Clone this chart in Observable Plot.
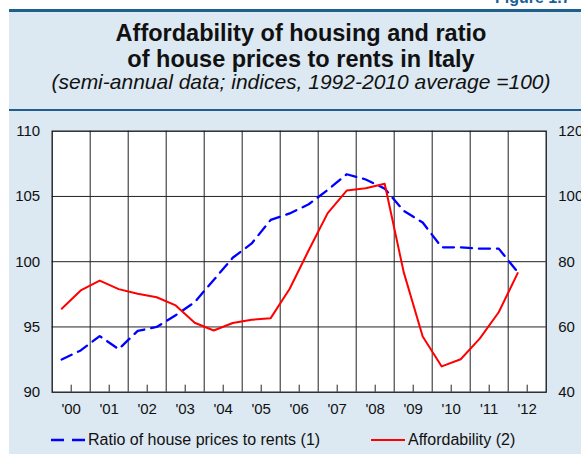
<!DOCTYPE html>
<html>
<head>
<meta charset="utf-8">
<script src="https://cdn.jsdelivr.net/npm/d3@7"></script>
<script src="https://cdn.jsdelivr.net/npm/@observablehq/plot@0.6"></script>
<style>
  html, body { margin: 0; padding: 0; background: #ffffff; }
  #wrap { position: relative; width: 581px; height: 454px; overflow: hidden; background: #ffffff; font-family: "Liberation Sans", Arial, Helvetica, sans-serif; }
  #panel { position: absolute; left: 9px; top: 9px; width: 572px; height: 445px; background: #dce8f2; border-top: 3px solid #1f5f8c; box-sizing: border-box; }
  #sep { position: absolute; left: 9px; top: 108.5px; width: 572px; height: 2.5px; background: #1f5f8c; }
  #fig { position: absolute; left: 495px; top: -11px; font-weight: bold; font-size: 16px; color: #1a5f98; white-space: nowrap; }
  .t { position: absolute; left: 9px; width: 584px; text-align: center; color: #111; white-space: nowrap; line-height: normal; }
  #t1 { top: 20px; font-size: 23.5px; font-weight: bold; }
  #t2 { top: 46px; font-size: 23.5px; font-weight: bold; }
  #t3 { top: 69.5px; font-size: 21px; font-style: italic; }
  #chart { position: absolute; left: 0; top: 120px; }
  #legend { position: absolute; left: 0; top: 430px; width: 581px; height: 20px; font-size: 16px; color: #111; }
  .li { position: absolute; top: 0; height: 20px; display: flex; align-items: center; white-space: nowrap; }
</style>
</head>
<body>
<div id="wrap">
  <div id="panel"></div>
  <div id="sep"></div>
  <div id="fig">Figure 1.7</div>
  <div class="t" id="t1">Affordability of housing and ratio</div>
  <div class="t" id="t2">of house prices to rents in Italy</div>
  <div class="t" id="t3">(semi-annual data; indices, 1992-2010 average =100)</div>
  <div id="chart"></div>
  <div id="legend">
    <div class="li" style="left:51px"><svg width="37" height="20"><line x1="0" y1="10" x2="34" y2="10" stroke="#0000ff" stroke-width="2.5" stroke-dasharray="13,8"/></svg><span>Ratio of house prices to rents (1)</span></div>
    <div class="li" style="left:371px"><svg width="37" height="20"><line x1="0" y1="10" x2="34" y2="10" stroke="#ff0000" stroke-width="2"/></svg><span>Affordability (2)</span></div>
  </div>
</div>
<script>
// Half-year observation points (mid-point of each semester)
const periods = [2000.25, 2000.75, 2001.25, 2001.75, 2002.25, 2002.75, 2003.25, 2003.75,
  2004.25, 2004.75, 2005.25, 2005.75, 2006.25, 2006.75, 2007.25, 2007.75,
  2008.25, 2008.75, 2009.25, 2009.75, 2010.25, 2010.75, 2011.25, 2011.75, 2012.25];
// Ratio of house prices to rents (left axis)
const ratio = [92.5, 93.2, 94.3, 93.3, 94.7, 95.0, 95.9, 96.9,
  98.6, 100.3, 101.4, 103.2, 103.7, 104.4, 105.5, 106.7,
  106.3, 105.6, 103.9, 103.0, 101.1, 101.1, 101.0, 101.0, 99.2];
// Affordability (right axis)
const affordability = [65.6, 71.2, 74.2, 71.6, 70.2, 69.1, 66.6, 61.3,
  58.9, 61.2, 62.2, 62.7, 71.7, 83.5, 94.9, 101.8,
  102.5, 103.9, 76.8, 57.1, 47.9, 50.1, 56.4, 64.5, 76.5];

const years = [2000, 2001, 2002, 2003, 2004, 2005, 2006, 2007, 2008, 2009, 2010, 2011, 2012];
const yearLabels = ["'00", "'01", "'02", "'03", "'04", "'05", "'06", "'07", "'08", "'09", "'10", "'11", "'12"];
const leftTicks = [90, 95, 100, 105, 110];
const rightTicks = [40, 60, 80, 100, 120];

// map right-axis values into the left-axis domain
const toLeft = v => 90 + (v - 40) * (110 - 90) / (120 - 40);

const data = periods.map((p, i) => ({p, ratio: ratio[i], aff: toLeft(affordability[i])}));
const yearBounds = years.slice(1);
const yearMids = years.map(y => y + 0.5);

const chart = Plot.plot({
  width: 581,
  height: 300,
  marginLeft: 51.7,
  marginRight: 35.3,
  marginTop: 10.7,
  marginBottom: 28.3,
  style: {background: "transparent", fontFamily: "'Liberation Sans', Arial, sans-serif", fontSize: "15px", color: "#111"},
  x: {domain: [years[0], years[years.length - 1] + 1]},
  y: {domain: [leftTicks[0], leftTicks[leftTicks.length - 1]]},
  marks: [
    Plot.frame({fill: "white", stroke: "none"}),
    Plot.ruleY(leftTicks.slice(1, -1), {stroke: "#222", strokeWidth: 1}),
    Plot.ruleX(yearBounds, {stroke: "#222", strokeWidth: 1}),
    Plot.ruleX(yearMids, {stroke: "#222", strokeWidth: 1, insetTop: 254}),
    Plot.axisY(leftTicks, {anchor: "left", tickSize: 0, tickPadding: 12, label: null}),
    Plot.axisY(leftTicks, {anchor: "right", tickSize: 0, tickPadding: 12, label: null,
      tickFormat: (d, i) => String(rightTicks[leftTicks.indexOf(d)])}),
    Plot.axisX(yearMids, {anchor: "bottom", tickSize: 0, tickPadding: 11, label: null,
      tickFormat: d => yearLabels[years.indexOf(d - 0.5)]}),
    Plot.line(data, {x: "p", y: "ratio", stroke: "#0000ff", strokeWidth: 2.3, strokeDasharray: "11,7"}),
    Plot.line(data, {x: "p", y: "aff", stroke: "#ff0000", strokeWidth: 2}),
    Plot.frame({stroke: "#111", strokeWidth: 1.3})
  ]
});
document.getElementById("chart").appendChild(chart);
</script>
</body>
</html>
